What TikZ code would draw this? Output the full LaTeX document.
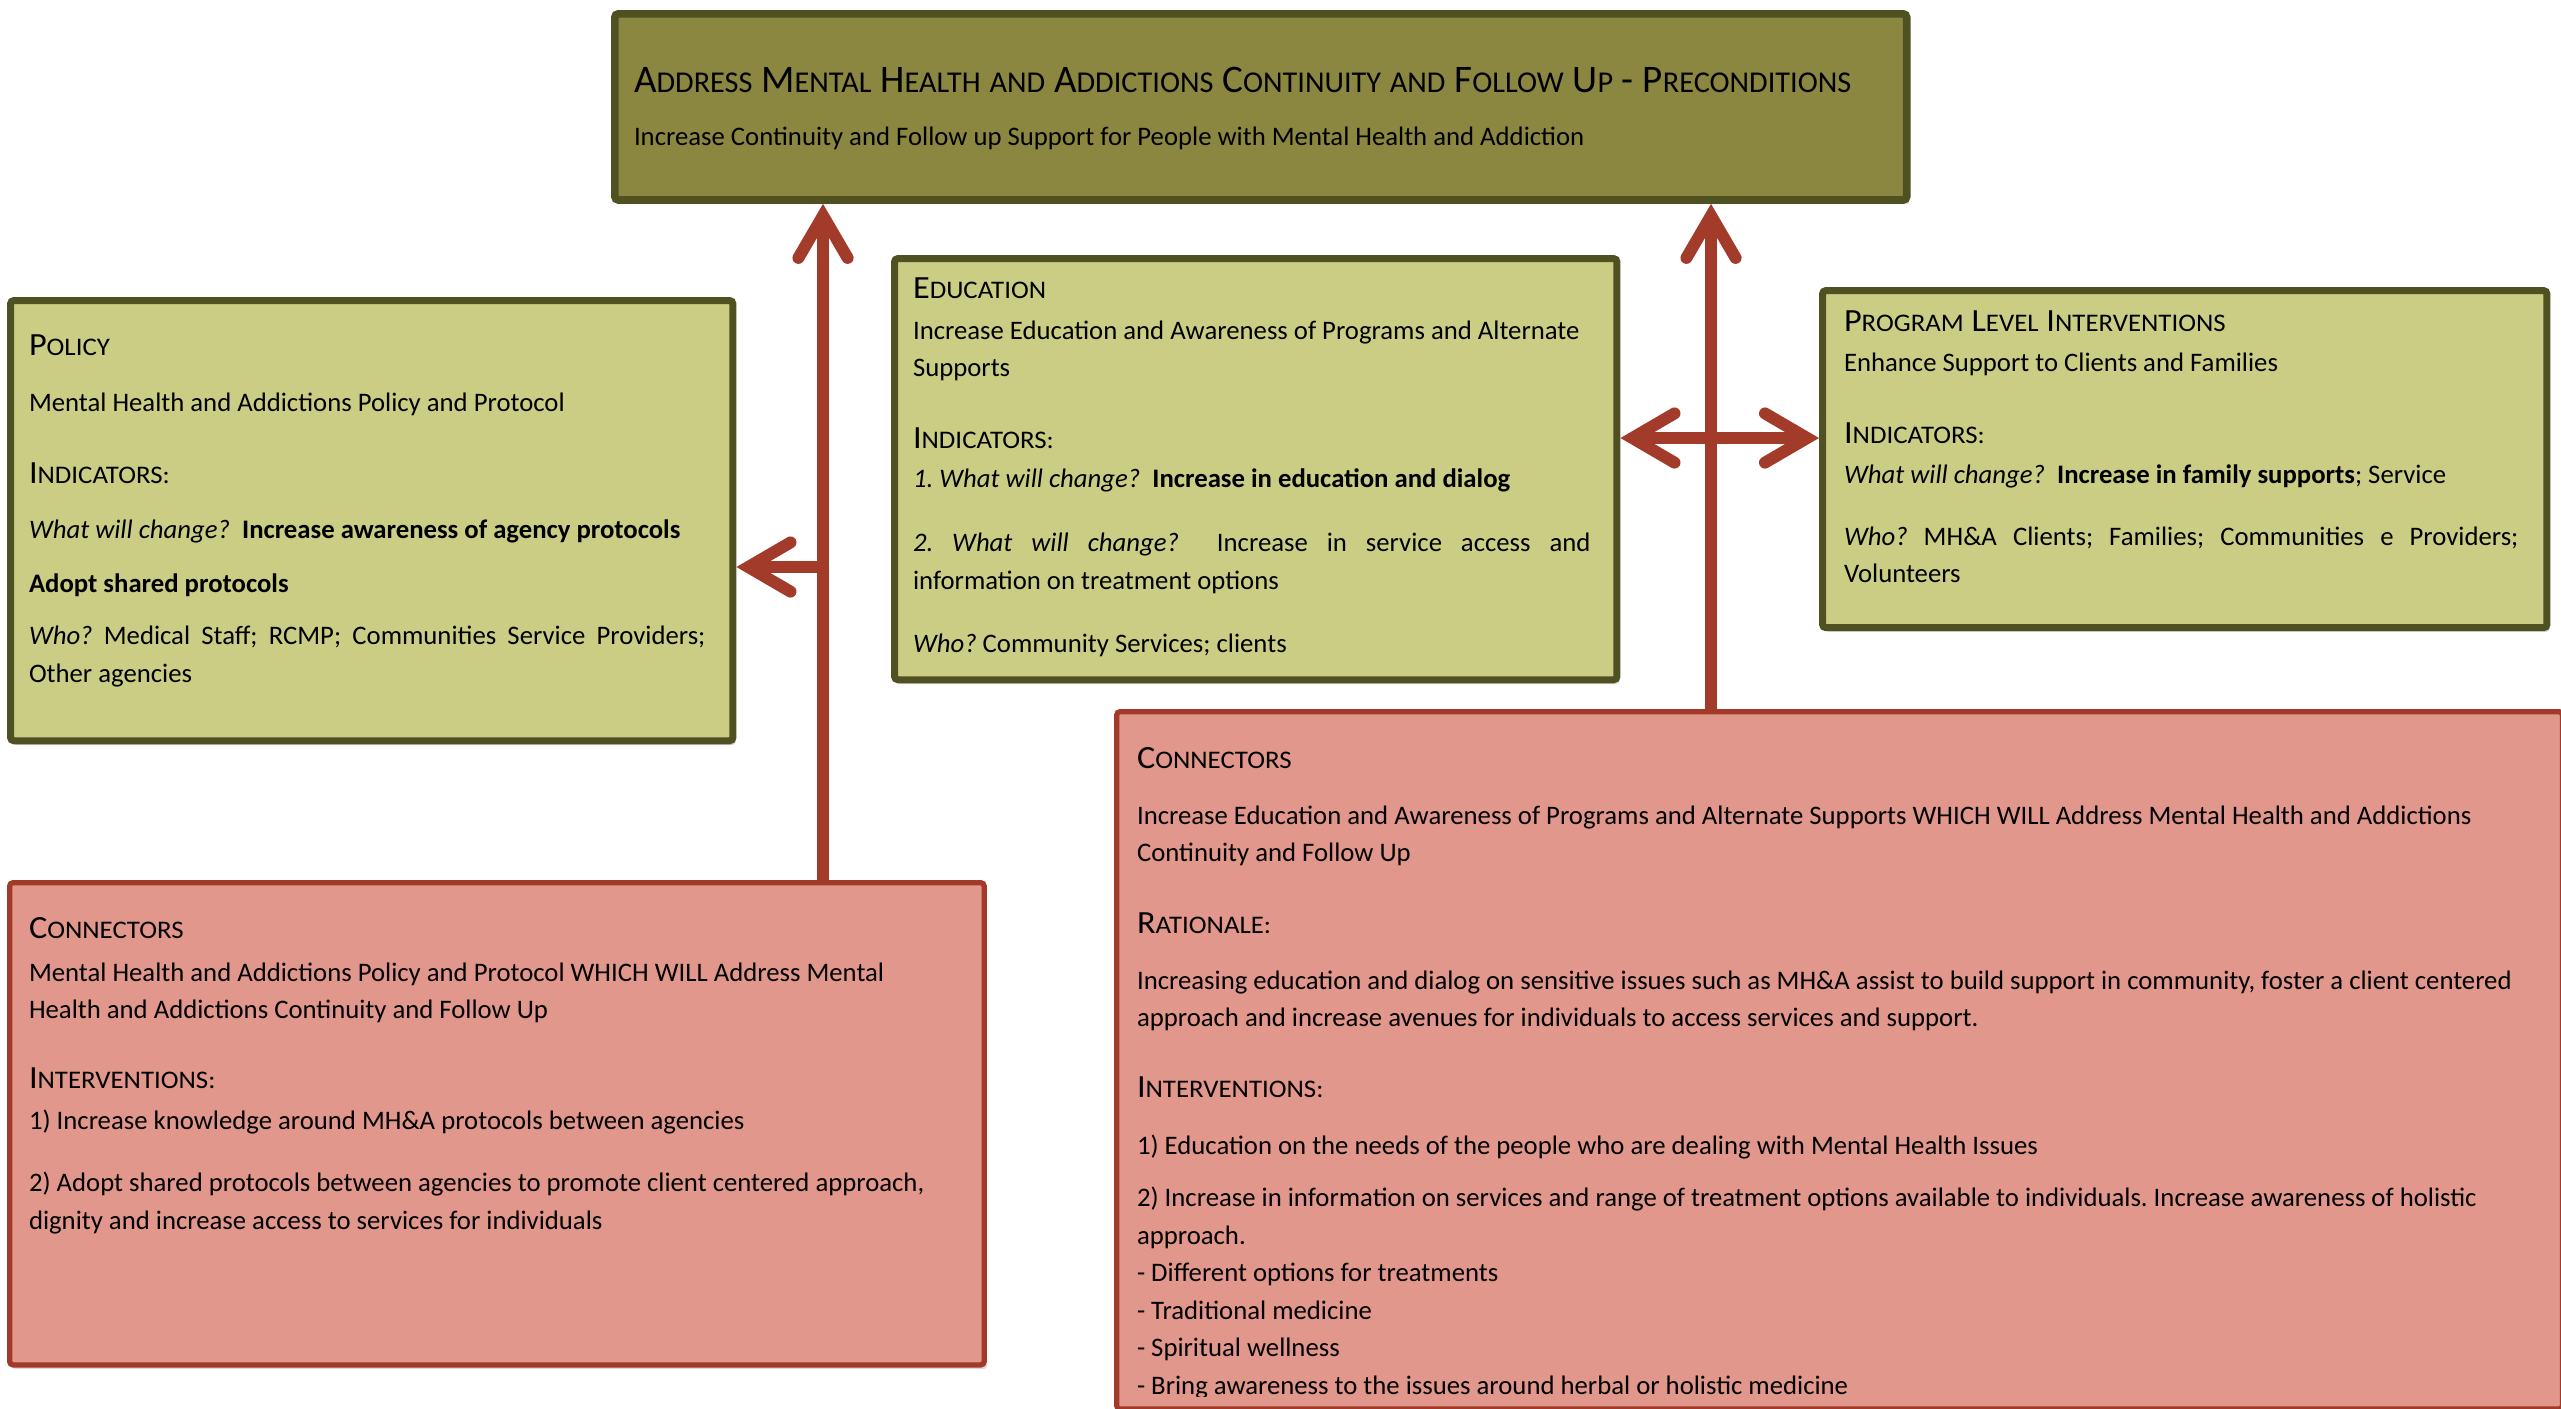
\documentclass[tikz,border=0pt]{standalone}
\usepackage{fontspec}
\setmainfont{Carlito}
\usetikzlibrary{arrows.meta,shadows}
\definecolor{oliveTop}{RGB}{139,134,64}
\definecolor{oliveDark}{RGB}{79,81,35}
\definecolor{greenFill}{RGB}{203,205,133}
\definecolor{redFill}{RGB}{225,151,139}
\definecolor{redLine}{RGB}{162,58,41}
\definecolor{arrowRed}{RGB}{163,59,42}
% fake small caps: \Sb for headings, \St for the title
\newcommand\Sb[2]{#1{\fontsize{7.2pt}{7.2pt}\selectfont #2}}
\newcommand\Hd[1]{\scalebox{1.06}[1]{\fontsize{9.2pt}{10pt}\selectfont #1}}
\newcommand\St[2]{#1{\fontsize{8.6pt}{8.6pt}\selectfont #2}}
\newcommand\bodyfont{\fontsize{7.6pt}{10.67pt}\selectfont\frenchspacing}
\tikzset{
  boxbase/.style={rectangle, anchor=north west, inner sep=0pt, rounded corners=1pt,
    drop shadow={shadow xshift=0.8pt, shadow yshift=-1.2pt, opacity=0.3}},
  topbox/.style={boxbase, fill=oliveTop, draw=oliveDark, line width=2.2pt},
  greenbox/.style={boxbase, fill=greenFill, draw=oliveDark, line width=2pt},
  redbox/.style={boxbase, fill=redFill, draw=redLine, line width=1.5pt},
  txt/.style={anchor=base west, inner sep=0pt, outer sep=0pt, font=\bodyfont, text=black},
  ttl/.style={txt, font=\fontsize{11.1pt}{12pt}\selectfont},
  link/.style={draw=arrowRed, line width=3.4pt},
  barb/.tip={Straight Barb[length=12pt,width=14pt,line cap=round,line join=miter]},
  tipend/.style={-barb},
  tipboth/.style={barb-barb},
}
\begin{document}
\begin{tikzpicture}[x=0.01cm,y=-0.01cm]
\useasboundingbox (0,0) rectangle (2561,1408);

% boxes
\node[topbox, minimum width=12.91cm, minimum height=1.86cm] (top) at (611,10) {};
\node[greenbox, minimum width=7.22cm, minimum height=4.40cm] (policy) at (7,297) {};
\node[greenbox, minimum width=7.22cm, minimum height=4.21cm] (edu) at (891,255) {};
\node[greenbox, minimum width=7.24cm, minimum height=3.37cm] (prog) at (1819,287) {};
\node[redbox, minimum width=9.74cm, minimum height=4.82cm] (lconn) at (7,880) {};
\node[redbox, minimum width=14.45cm, minimum height=6.97cm] (rconn) at (1114,709) {};

% top box text
\node[ttl] (t1) at (634,92) {\St{A}{DDRESS} \St{M}{ENTAL} \St{H}{EALTH} \St{}{AND} \St{A}{DDICTIONS} \St{C}{ONTINUITY} \St{}{AND} \St{F}{OLLOW} \St{U}{P} - \St{P}{RECONDITIONS}};
\node[txt] (t2) at (634,145) {Increase Continuity and Follow up Support for People with Mental Health and Addiction};

% policy
\node[txt] (p1) at (29,355) {\Hd{\Sb{P}{OLICY}}};
\node[txt] (p2) at (29,411) {Mental Health and Addictions Policy and Protocol};
\node[txt] (p3) at (29,483) {\Hd{\Sb{I}{NDICATORS:}}};
\node[txt] (p4) at (29,538) {\textit{What will change?}~ \textbf{Increase awareness of agency protocols}};
\node[txt] (p5) at (29,592) {\textbf{Adopt shared protocols}};
\node[txt] (p6) at (29,644) {\makebox[6.76cm][s]{\textit{Who?} Medical Staff; RCMP; Communities Service Providers;}};
\node[txt] (p7) at (29,682) {Other agencies};

% education
\node[txt] (e1) at (913,298) {\Hd{\Sb{E}{DUCATION}}};
\node[txt] (e2) at (913,339) {Increase Education and Awareness of Programs and Alternate};
\node[txt] (e3) at (913,376) {Supports};
\node[txt] (e4) at (913,448) {\Hd{\Sb{I}{NDICATORS:}}};
\node[txt] (e5) at (913,487) {\textit{1. What will change?}~ \textbf{Increase in education and dialog}};
\node[txt] (e6) at (913,551) {\makebox[6.77cm][s]{\textit{2. What will change?}~ Increase in service access and}};
\node[txt] (e7) at (913,589) {information on treatment options};
\node[txt] (e8) at (913,652) {\textit{Who?} Community Services; clients};

% program
\node[txt] (g1) at (1844,331) {\Hd{\Sb{P}{ROGRAM} \Sb{L}{EVEL} \Sb{I}{NTERVENTIONS}}};
\node[txt] (g2) at (1844,371) {Enhance Support to Clients and Families};
\node[txt] (g3) at (1844,443) {\Hd{\Sb{I}{NDICATORS:}}};
\node[txt] (g4) at (1844,483) {\textit{What will change?}~ \textbf{Increase in family supports}; Service};
\node[txt] (g5) at (1844,545) {\makebox[6.74cm][s]{\textit{Who?} MH\&A Clients; Families; Communities e Providers;}};
\node[txt] (g6) at (1844,582) {Volunteers};

% left connectors
\node[txt] (l1) at (29,938) {\Hd{\Sb{C}{ONNECTORS}}};
\node[txt] (l2) at (29,981) {Mental Health and Addictions Policy and Protocol WHICH WILL Address Mental};
\node[txt] (l3) at (29,1018) {Health and Addictions Continuity and Follow Up};
\node[txt] (l4) at (29,1088) {\Hd{\Sb{I}{NTERVENTIONS:}}};
\node[txt] (l5) at (29,1129) {1) Increase knowledge around MH\&A protocols between agencies};
\node[txt] (l6) at (29,1191) {2) Adopt shared protocols between agencies to promote client centered approach,};
\node[txt] (l7) at (29,1229) {dignity and increase access to services for individuals};

% right connectors
\node[txt] (r1) at (1137,768) {\Hd{\Sb{C}{ONNECTORS}}};
\node[txt] (r2) at (1137,824) {Increase Education and Awareness of Programs and Alternate Supports WHICH WILL Address Mental Health and Addictions};
\node[txt] (r3) at (1137,861) {Continuity and Follow Up};
\node[txt] (r4) at (1137,933) {\Hd{\Sb{R}{ATIONALE:}}};
\node[txt] (r5) at (1137,989) {Increasing education and dialog on sensitive issues such as MH\&A assist to build support in community, foster a client centered};
\node[txt] (r6) at (1137,1026) {approach and increase avenues for individuals to access services and support.};
\node[txt] (r7) at (1137,1097) {\Hd{\Sb{I}{NTERVENTIONS:}}};
\node[txt] (r8) at (1137,1154) {1) Education on the needs of the people who are dealing with Mental Health Issues};
\node[txt] (r9) at (1137,1206) {2) Increase in information on services and range of treatment options available to individuals. Increase awareness of holistic};
\node[txt] (r10) at (1137,1244) {approach.};
\node[txt] (r11) at (1137,1281) {- Different options for treatments};
\node[txt] (r12) at (1137,1319) {- Traditional medicine};
\node[txt] (r13) at (1137,1356) {- Spiritual wellness};
\begin{scope}
\clip (1114,709) rectangle (2559,1396);
\node[txt] (r14) at (1137,1394) {- Bring awareness to the issues around herbal or holistic medicine};
\end{scope}

% connectors (arrows)
\coordinate (jl) at (823,567);
\draw[link,tipend] (jl |- lconn.north) -- (jl |- top.south);
\draw[link,tipend] (jl) -- (jl -| policy.east);
\coordinate (jr) at (1711,438);
\draw[link,tipend] (jr |- rconn.north) -- (jr |- top.south);
\draw[link,tipboth] (jr -| edu.east) -- (jr -| prog.west);
\end{tikzpicture}
\end{document}
